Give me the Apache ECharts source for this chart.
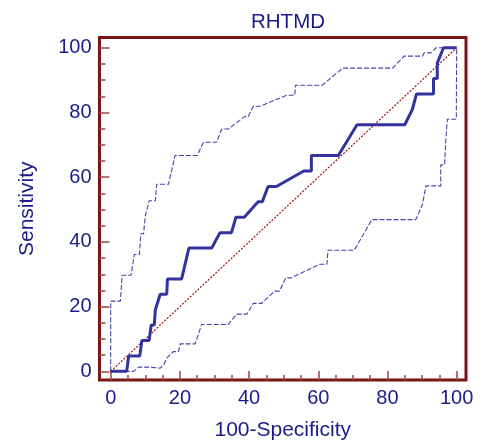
<!DOCTYPE html>
<html>
<head>
<meta charset="utf-8">
<script src="https://cdn.jsdelivr.net/npm/echarts@6/dist/echarts.min.js"></script>
<style>html,body{margin:0;padding:0;background:#fff}#c{width:483px;height:446px}</style>
</head>
<body>
<div id="c"></div>
<script>
// ROC curve (100-Specificity, Sensitivity)
const rocX = [0,4.6,5.2,8.4,9.0,11.1,11.7,12.6,12.9,14.3,16.2,16.4,20.5,22.6,29.2,31.6,34.9,36.2,38.6,42.6,43.8,45.5,47.9,55.8,58.0,58.0,65.8,71.2,85.0,87.2,88.4,93.3,93.3,94.4,94.4,96.2,100];
const rocY = [0,0,4.76,4.76,9.52,9.52,14.29,14.29,19.05,23.81,23.81,28.57,28.57,38.10,38.10,42.86,42.86,47.62,47.62,52.38,52.38,57.14,57.14,61.90,61.90,66.67,66.67,76.19,76.19,80.95,85.71,85.71,90.48,90.48,95.24,100,100];
// Upper confidence bound
const upperX = [0,0,2.8,3.3,5.9,6.8,8.3,8.7,9.5,10.0,11.1,12.9,13.3,16.7,18.6,25.0,26.8,30.6,32.1,34.0,38.8,39.8,41.2,43.1,50.8,53.2,53.4,61.1,67.1,81.5,84.8,90.1,90.6,92.5,94.1,100];
const upperY = [0,21.7,21.7,29.7,29.7,36.1,36.1,42.5,42.5,48.1,52.7,52.7,57.8,57.8,66.7,66.7,70.8,70.8,74.9,74.9,78.8,78.8,81.9,81.9,85.3,85.3,88.4,88.4,93.7,93.7,97.4,97.4,98.4,98.4,100,100];
// Lower confidence bound
const lowerX = [0,6.6,8.1,10.9,14.3,15.3,16.2,18.1,19.6,20.1,24.4,26.3,34.0,36.4,39.4,41.2,43.6,47.4,48.8,50.6,52.2,60.4,62.5,62.8,70.4,75.5,88.2,90.1,91.1,95.4,95.4,96.5,96.8,97.3,99.9,100];
const lowerY = [0,0,1.3,1.3,1.0,2.0,4.1,6.1,6.1,8.5,8.5,14.5,14.5,17.7,17.7,21.0,21.0,24.8,24.8,28.9,28.9,33.1,33.1,37.4,37.4,46.9,46.9,51.5,57.3,57.3,63.8,63.8,70.6,77.9,77.9,100];
// Reference diagonal
const diagX = [0,100];
const diagY = [0,100];
// Tick values
const majorTicks = [0,20,40,60,80,100];
const minorTicks = [5,10,15,25,30,35,45,50,55,65,70,75,85,90,95];
// Axis extents (frame slightly beyond 0..100)
const xMin = -3.24, xMax = 102.7;
const yMin = -2.67, yMax = 103.16;

const pairs = (xs, ys) => xs.map((x, i) => [x, ys[i]]);
const navy = '#1a1a8a';
const frame = '#7b1616';
const tickCol = '#a04444';
const font = 'Liberation Sans, Arial, sans-serif';

function mkAxis(isX, values, len, withLabels) {
  return {
    type: 'value', gridIndex: 0,
    min: isX ? xMin : yMin, max: isX ? xMax : yMax,
    position: isX ? 'bottom' : 'left',
    axisLine: {show: false, onZero: false},
    axisTick: {show: true, inside: true, length: len, customValues: values,
      lineStyle: {color: tickCol, width: 1.5}},
    minorTick: {show: false},
    splitLine: {show: false},
    axisLabel: withLabels ? {show: true, customValues: values, color: navy, fontSize: 20, fontFamily: font,
      margin: 8} : {show: false},
    name: withLabels ? (isX ? '100-Specificity' : 'Sensitivity') : '',
    nameLocation: 'middle',
    nameGap: isX ? 40 : 62,
    nameTextStyle: {color: navy, fontSize: 21, fontFamily: font}
  };
}

const chart = echarts.init(document.getElementById('c'), null, {renderer: 'canvas'});
chart.setOption({
  animation: false,
  backgroundColor: '#fff',
  title: {text: 'RHTMD', left: 283, top: 7, textAlign: 'center',
    textStyle: {color: navy, fontSize: 20.5, fontWeight: 'normal', fontFamily: font}},
  grid: {left: 99.5, top: 37.5, width: 366.5, height: 344.5, show: true,
    borderColor: frame, borderWidth: 3, backgroundColor: 'transparent'},
  xAxis: [mkAxis(true, majorTicks, 9, true), mkAxis(true, minorTicks, 5, false)],
  yAxis: [mkAxis(false, majorTicks, 10, true), mkAxis(false, minorTicks, 6, false)],
  series: [
    {type: 'line', data: pairs(upperX, upperY), showSymbol: false, symbol: 'none',
      lineStyle: {color: '#4444aa', width: 1.1, type: [5, 2]}, z: 2},
    {type: 'line', data: pairs(lowerX, lowerY), showSymbol: false, symbol: 'none',
      lineStyle: {color: '#4444aa', width: 1.1, type: [5, 2]}, z: 2},
    {type: 'line', data: pairs(diagX, diagY), showSymbol: false, symbol: 'none',
      lineStyle: {color: '#a01010', width: 1.2, type: [2, 1.5]}, z: 3},
    {type: 'line', data: pairs(rocX, rocY), showSymbol: false, symbol: 'none',
      lineStyle: {color: '#3333a0', width: 3}, z: 4}
  ]
});
</script>
</body>
</html>
